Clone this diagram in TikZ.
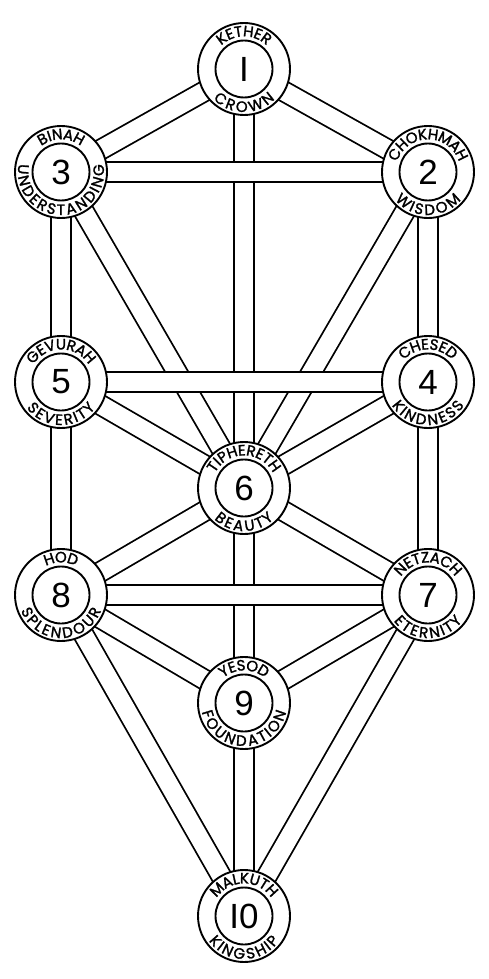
\documentclass[tikz,border=0pt]{standalone}
\usepackage{fontspec}
\setmainfont{Liberation Sans}
\newfontfamily\ringfam{Poppins}[FakeBold=1.6]
\usetikzlibrary{calc}
\newlength\rtw
\newcommand\rfont{\ringfam\fontsize{15pt}{15pt}\selectfont}
\newcommand\rgap{1.0}
\newcommand\rmid{37.8}
\newcommand\rtopr{32.6}
\newcommand\rbotr{43.0}
\newcommand\rmeasure[1]{%
  \pgfinterruptpicture
    \settowidth\rtw{\rfont #1}%
    \xdef\rw{\the\rtw}%
  \endpgfinterruptpicture
}
\tikzset{
  band/.style={draw=black, double=white, double distance=18.2pt, line width=1.8pt, line cap=butt},
  sephouter/.style={circle, draw=black, fill=white, line width=1.9pt, minimum size=92pt, inner sep=0pt},
  sephinner/.style={circle, draw=black, fill=white, line width=1.9pt, minimum size=57pt, inner sep=0pt,
    font=\fontsize{35pt}{35pt}\selectfont},
  ringletter/.style={font=\rfont, inner sep=0pt, outer sep=0pt, anchor=base}
}
\newcommand\ringtext[3]{%
  \xdef\rtot{0}%
  \foreach \lett in {#3}{%
    \rmeasure{\lett}%
    \pgfmathsetmacro\rtmp{\rtot+\rw+\rgap}%
    \xdef\rtot{\rtmp}%
  }%
  \xdef\racc{0}%
  \foreach \lett in {#3}{%
    \rmeasure{\lett}%
    \pgfmathsetmacro\rpos{\racc+0.5*\rw+0.5*\rgap-0.5*\rtot}%
    \pgfmathsetmacro\rang{\rpos/\rmid*180/pi}%
    \ifnum#2=1\relax
      \pgfmathsetmacro\rdir{90-\rang}%
      \pgfmathsetmacro\rrot{0-\rang}%
      \node[ringletter, rotate=\rrot] at ($(#1)+(\rdir:\rtopr)$) {\lett};%
    \else
      \pgfmathsetmacro\rdir{270+\rang}%
      \pgfmathsetmacro\rrot{\rang}%
      \node[ringletter, rotate=\rrot] at ($(#1)+(\rdir:\rbotr)$) {\lett};%
    \fi
    \pgfmathsetmacro\rtmp{\racc+\rw+\rgap}%
    \xdef\racc{\rtmp}%
  }%
}
\begin{document}
\begin{tikzpicture}[x=1pt,y=1pt]
\useasboundingbox (0,0) rectangle (489,-979);
\fill[white] (0,0) rectangle (489,-979);
\coordinate (c1) at (244,-69);
\coordinate (c2) at (428,-172);
\coordinate (c3) at (61,-172);
\coordinate (c4) at (428,-382);
\coordinate (c5) at (61,-382);
\coordinate (c6) at (244,-488);
\coordinate (c7) at (428,-595);
\coordinate (c8) at (61,-595);
\coordinate (c9) at (244,-703);
\coordinate (c10) at (244,-916);
% diagonal paths
\foreach \a/\b in {1/2,1/3,2/6,3/6,4/6,5/6,6/7,6/8,7/9,8/9,7/10,8/10}
  \draw[band] (c\a) -- (c\b);
% vertical paths
\foreach \a/\b in {1/6,6/9,9/10,3/5,5/8,2/4,4/7}
  \draw[band] (c\a) -- (c\b);
% horizontal paths
\foreach \a/\b in {2/3,4/5,7/8}
  \draw[band] (c\a) -- (c\b);
% sephiroth
\foreach \i/\d in {1/I,2/2,3/3,4/4,5/5,6/6,7/7,8/8,9/9,10/I0}{
  \node[sephouter] (s\i) at (c\i) {};
  \node[sephinner] (n\i) at (c\i) {\d};
}
\ringtext{c1}{1}{K,E,T,H,E,R}
\ringtext{c1}{-1}{C,R,O,W,N}
\ringtext{c2}{1}{C,H,O,K,H,M,A,H}
\ringtext{c2}{-1}{W,I,S,D,O,M}
\ringtext{c3}{1}{B,I,N,A,H}
\ringtext{c3}{-1}{U,N,D,E,R,S,T,A,N,D,I,N,G}
\ringtext{c4}{1}{C,H,E,S,E,D}
\ringtext{c4}{-1}{K,I,N,D,N,E,S,S}
\ringtext{c5}{1}{G,E,V,U,R,A,H}
\ringtext{c5}{-1}{S,E,V,E,R,I,T,Y}
\ringtext{c6}{1}{T,I,P,H,E,R,E,T,H}
\ringtext{c6}{-1}{B,E,A,U,T,Y}
\ringtext{c7}{1}{N,E,T,Z,A,C,H}
\ringtext{c7}{-1}{E,T,E,R,N,I,T,Y}
\ringtext{c8}{1}{H,O,D}
\ringtext{c8}{-1}{S,P,L,E,N,D,O,U,R}
\ringtext{c9}{1}{Y,E,S,O,D}
\ringtext{c9}{-1}{F,O,U,N,D,A,T,I,O,N}
\ringtext{c10}{1}{M,A,L,K,U,T,H}
\ringtext{c10}{-1}{K,I,N,G,S,H,I,P}
\end{tikzpicture}
\end{document}
